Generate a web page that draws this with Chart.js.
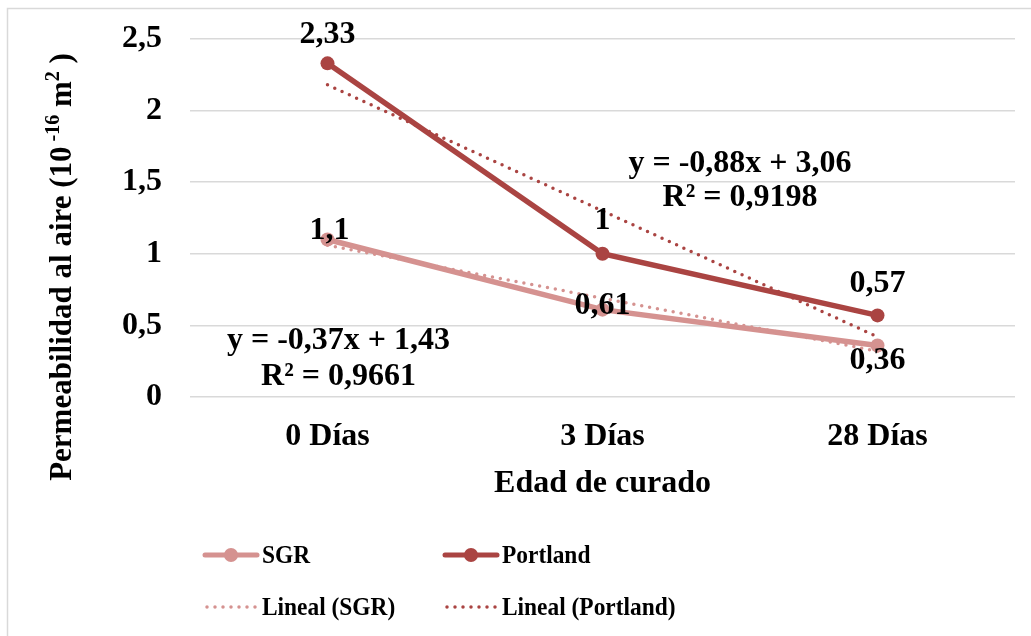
<!DOCTYPE html>
<html>
<head>
<meta charset="utf-8">
<script src="https://cdn.jsdelivr.net/npm/chart.js@4"></script>
<style>
  body { margin: 0; background: #fff; }
</style>
</head>
<body>
<canvas id="chart" width="1031" height="636"></canvas>
<script>
// data
const categories = ['0 Días', '3 Días', '28 Días'];
const sgrValues = [1.1, 0.61, 0.36];
const portlandValues = [2.33, 1, 0.57];
const sgrTrend = [1.06, 0.69, 0.32];
const portlandTrend = [2.18, 1.30, 0.42];
const yTicks = [0, 0.5, 1, 1.5, 2, 2.5];
const sgrEquation = ['y = -0,37x + 1,43', 'R² = 0,9661'];
const portlandEquation = ['y = -0,88x + 3,06', 'R² = 0,9198'];

const serif = '"Liberation Serif", "Times New Roman", serif';
const sgrColor = 'rgb(213,146,144)';
const portlandColor = 'rgb(170,68,66)';
const fmt = v => String(v).replace('.', ',');

// label offsets (px) relative to each point
const labelOffsets = {
  0: [[2, -9], [0, -4], [0, 15]],
  1: [[0, -29], [0, -33], [0, -32]]
};

const extras = {
  id: 'extras',
  beforeDraw(chart) {
    const ctx = chart.ctx;
    ctx.save();
    ctx.fillStyle = '#fff';
    ctx.fillRect(0, 0, chart.width, chart.height);
    ctx.strokeStyle = '#d9d9d9';
    ctx.lineWidth = 1.5;
    ctx.strokeRect(7.5, 8.5, chart.width + 20, chart.height + 20);
    ctx.restore();
  },
  afterDatasetsDraw(chart) {
    const ctx = chart.ctx;
    const x = chart.scales.x, y = chart.scales.y;
    ctx.save();
    ctx.fillStyle = '#000';
    ctx.font = 'bold 32px ' + serif;
    ctx.textAlign = 'center';
    ctx.textBaseline = 'middle';
    // data labels
    [0, 1].forEach(di => {
      const meta = chart.getDatasetMeta(di);
      meta.data.forEach((pt, i) => {
        const off = labelOffsets[di][i];
        ctx.fillText(fmt(chart.data.datasets[di].data[i]), pt.x + off[0], pt.y + off[1]);
      });
    });
    // trend equations
    const step = x.getPixelForValue(1) - x.getPixelForValue(0);
    const x0 = x.getPixelForValue(0);
    ctx.fillText(sgrEquation[0], x0 + 0.04 * step, y.getPixelForValue(0.39));
    ctx.fillText(sgrEquation[1], x0 + 0.04 * step, y.getPixelForValue(0.14));
    ctx.fillText(portlandEquation[0], x0 + 1.5 * step, y.getPixelForValue(1.63));
    ctx.fillText(portlandEquation[1], x0 + 1.5 * step, y.getPixelForValue(1.39));
    ctx.restore();
  },
  afterDraw(chart) {
    const ctx = chart.ctx;
    ctx.save();
    // y axis title with superscripts
    const big = 'bold 31px ' + serif, small = 'bold 20px ' + serif;
    const parts = [
      ['Permeabilidad al aire (10', big, 0],
      [' -16', small, -12],
      [' m', big, 0],
      ['2', small, -12],
      [' )', big, 0]
    ];
    let total = 0;
    parts.forEach(p => { ctx.font = p[1]; total += ctx.measureText(p[0]).width; });
    ctx.translate(71, 267);
    ctx.rotate(-Math.PI / 2);
    ctx.fillStyle = '#000';
    ctx.textBaseline = 'alphabetic';
    ctx.textAlign = 'left';
    let cx = -total / 2;
    parts.forEach(p => {
      ctx.font = p[1];
      ctx.fillText(p[0], cx, p[2]);
      cx += ctx.measureText(p[0]).width;
    });
    ctx.restore();

    // legend
    const entries = [
      { ds: 0, x: 205, y: 555 },
      { ds: 1, x: 445, y: 555 },
      { ds: 2, x: 205, y: 607 },
      { ds: 3, x: 445, y: 607 }
    ];
    entries.forEach(e => {
      const d = chart.data.datasets[e.ds];
      ctx.save();
      ctx.beginPath();
      ctx.strokeStyle = d.borderColor;
      ctx.lineCap = 'round';
      if (d.borderDash) {
        ctx.lineWidth = 3.5;
        ctx.setLineDash([0, 8]);
        ctx.moveTo(e.x + 2, e.y);
        ctx.lineTo(e.x + 52, e.y);
      } else {
        ctx.lineWidth = 5;
        ctx.moveTo(e.x, e.y);
        ctx.lineTo(e.x + 52, e.y);
      }
      ctx.stroke();
      ctx.setLineDash([]);
      if (!d.borderDash) {
        ctx.beginPath();
        ctx.fillStyle = d.borderColor;
        ctx.arc(e.x + 26, e.y, 7, 0, Math.PI * 2);
        ctx.fill();
      }
      // legend text is a little narrower than the rest in the reference
      ctx.translate(e.x + 57, e.y + 1);
      ctx.scale(0.9, 1);
      ctx.fillStyle = '#000';
      ctx.font = 'bold 26px ' + serif;
      ctx.textBaseline = 'middle';
      ctx.textAlign = 'left';
      ctx.fillText(d.label, 0, 0);
      ctx.restore();
    });
  }
};

new Chart(document.getElementById('chart'), {
  type: 'line',
  data: {
    labels: categories,
    datasets: [
      {
        label: 'SGR', data: sgrValues, order: 2,
        borderColor: sgrColor, backgroundColor: sgrColor,
        borderWidth: 5.5, pointRadius: 7, pointBackgroundColor: sgrColor,
        pointBorderWidth: 0, tension: 0
      },
      {
        label: 'Portland', data: portlandValues, order: 1,
        borderColor: portlandColor, backgroundColor: portlandColor,
        borderWidth: 5.5, pointRadius: 7, pointBackgroundColor: portlandColor,
        pointBorderWidth: 0, tension: 0
      },
      {
        label: 'Lineal (SGR)', data: sgrTrend, order: 0,
        borderColor: sgrColor, borderWidth: 3.5, borderDash: [0, 8],
        borderCapStyle: 'round', pointRadius: 0, tension: 0
      },
      {
        label: 'Lineal (Portland)', data: portlandTrend, order: 0,
        borderColor: portlandColor, borderWidth: 3.5, borderDash: [0, 8],
        borderCapStyle: 'round', pointRadius: 0, tension: 0
      }
    ]
  },
  options: {
    responsive: false,
    animation: false,
    layout: { padding: { left: 0, right: 16, top: 39, bottom: 129 } },
    plugins: {
      legend: { display: false },
      tooltip: { enabled: false }
    },
    scales: {
      x: {
        offset: true,
        grid: { display: false },
        border: { display: false },
        ticks: {
          color: '#000', padding: 13,
          font: { family: serif, size: 32, weight: 'bold' }
        },
        title: {
          display: true, text: 'Edad de curado', color: '#000',
          padding: { top: 0, bottom: 4 },
          font: { family: serif, size: 32, weight: 'bold' }
        },
        afterFit(scale) { scale.height = 110; }
      },
      y: {
        min: 0, max: 2.5,
        afterBuildTicks(scale) { scale.ticks = yTicks.map(v => ({ value: v })); },
        grid: { color: '#d9d9d9', lineWidth: 1.5, drawTicks: false },
        border: { display: false },
        ticks: {
          color: '#000', padding: 28,
          font: { family: serif, size: 32, weight: 'bold' },
          callback: v => fmt(v)
        },
        afterFit(scale) {
          scale.width = 190;
          // keep the label padding from pushing the plot area down
          scale.paddingTop = 0;
          scale.paddingBottom = 0;
        }
      }
    }
  },
  plugins: [extras]
});
</script>
</body>
</html>
